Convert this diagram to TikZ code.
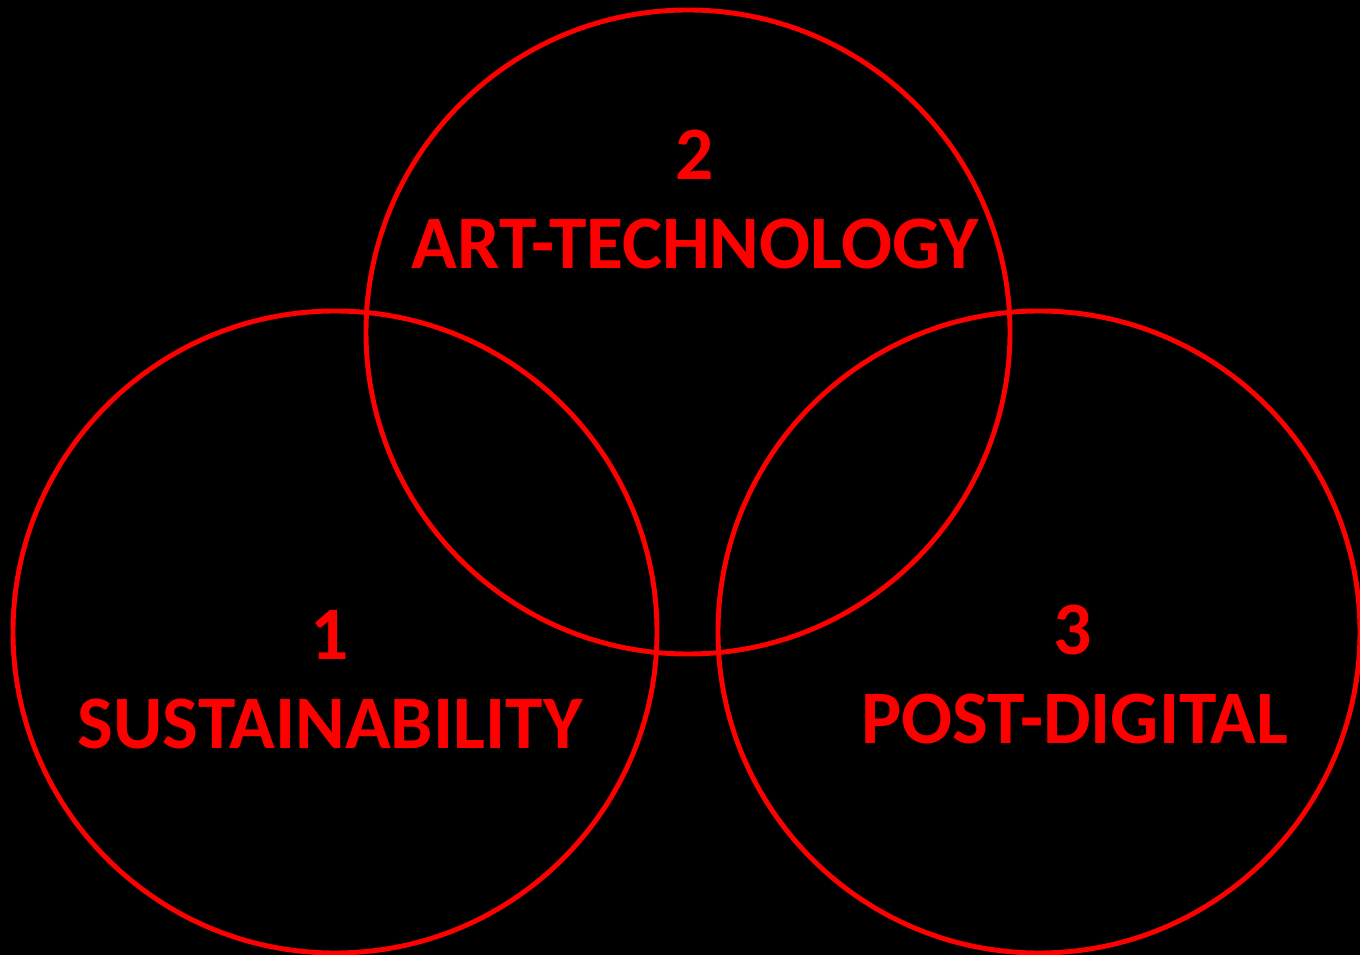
\documentclass[tikz,border=0pt]{standalone}
\usepackage{fontspec}
\setmainfont{Carlito}
\usepackage{tikz}

\begin{document}
\begin{tikzpicture}[x=0.02cm,y=-0.02cm]
    \tikzset{ring/.style={draw=red,line width=2.8pt},
      lbl/.style={text=red,font=\fontsize{43}{48}\selectfont\bfseries,anchor=base,inner sep=0pt}}
    \fill[black] (0,0) rectangle (1360,955);
    \useasboundingbox (0,0) rectangle (1360,955);
    \draw[ring] (688,332) ellipse [x radius=322, y radius=322];
    \draw[ring] (335,632) ellipse [x radius=322, y radius=321];
    \draw[ring] (1039,632) ellipse [x radius=321, y radius=321];
    \node[lbl] (num2) at (695,180) {2};
    \node[lbl] (arttech) at (695,269) {ART-TECHNOLOGY};
    \node[lbl] (num1) at (330,660) {1};
    \node[lbl] (sustain) at (330,749) {SUSTAINABILITY};
    \node[lbl] (num3) at (1073,655) {3};
    \node[lbl] (postdig) at (1075,744) {POST-DIGITAL};
\end{tikzpicture}
\end{document}
